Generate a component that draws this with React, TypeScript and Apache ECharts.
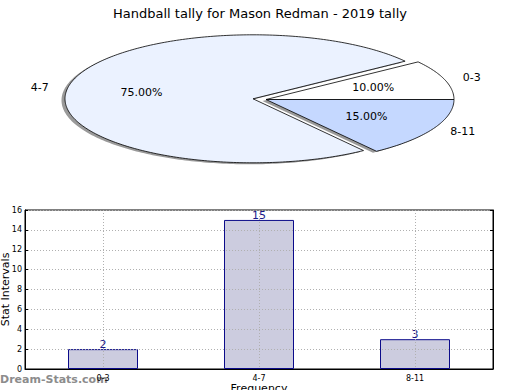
import React, { useEffect, useRef } from "react";
import * as echarts from "echarts";

const titleText = "Handball tally for Mason Redman - 2019 tally";
const categories = ["0-3", "4-7", "8-11"];
const pieValues = [2, 15, 3];
const barValues = [2, 15, 3];
const yTicks = { min: 0, max: 16, interval: 2 };
const xName = "Frequency";
const yName = "Stat Intervals";
const watermark = "Dream-Stats.com";

const FONT = "DejaVu Sans";
const pieColors = ["#ffffff", "#ebf2ff", "#c5d8ff"];
const pieExplode = [0, 0.07, 0];
const PIE = { cx: 266, cy: 99.5, rx: 188, ry: 64, shadowDx: -3.5, shadowDy: 1.5 };

const total = pieValues.reduce((a, b) => a + b, 0);

function slicePoints(i: number, dx: number, dy: number) {
  let start = 0;
  for (let j = 0; j < i; j++) start += pieValues[j] / total;
  const end = start + pieValues[i] / total;
  const a0 = start * Math.PI * 2;
  const a1 = end * Math.PI * 2;
  const mid = (a0 + a1) / 2;
  const ex = pieExplode[i];
  const cx = PIE.cx + ex * PIE.rx * Math.cos(mid) + dx;
  const cy = PIE.cy - ex * PIE.ry * Math.sin(mid) + dy;
  const pts: number[][] = [[cx, cy]];
  const steps = Math.max(4, Math.ceil(((a1 - a0) * 180) / Math.PI));
  for (let k = 0; k <= steps; k++) {
    const a = a0 + ((a1 - a0) * k) / steps;
    pts.push([cx + PIE.rx * Math.cos(a), cy - PIE.ry * Math.sin(a)]);
  }
  return { pts, cx, cy, mid };
}

export default function App() {
  const ref = useRef<HTMLDivElement>(null);
  useEffect(() => {
    document.body.style.margin = "0";
    const chart = echarts.init(ref.current!, null, { renderer: "svg" });
    chart.setOption({
      animation: false,
      backgroundColor: "#ffffff",
      title: {
        text: titleText,
        left: "center",
        top: 2,
        textStyle: { fontFamily: FONT, fontSize: 13, fontWeight: "normal", color: "#000" },
      },
      grid: {
        left: 25,
        right: 27,
        top: 210,
        bottom: 21,
        containLabel: false,
        outerBoundsMode: "none",
        show: true,
        borderColor: "#000",
        borderWidth: 1,
        backgroundColor: "transparent",
      },
      xAxis: {
        type: "category",
        data: categories,
        z: 3,
        axisLine: { show: true, lineStyle: { color: "#000", width: 1 } },
        axisTick: { show: false },
        axisLabel: { fontFamily: FONT, fontSize: 8, color: "#000", margin: 5 },
        splitLine: {
          show: true,
          alignWithLabel: true,
          lineStyle: { color: "#b0b0b0", type: [1, 2], width: 1 },
        },
        name: xName,
        nameLocation: "middle",
        nameGap: 14,
        nameMoveOverlap: false,
        nameTextStyle: { fontFamily: FONT, fontSize: 11, color: "#000" },
      },
      yAxis: [
        {
          type: "value",
          min: yTicks.min,
          max: yTicks.max,
          interval: yTicks.interval,
          z: 3,
          axisLine: { show: true, lineStyle: { color: "#000", width: 1 } },
          axisTick: { show: true, inside: true, length: 3, lineStyle: { color: "#000" } },
          axisLabel: { fontFamily: FONT, fontSize: 8, color: "#000", margin: 3 },
          splitLine: { show: true, lineStyle: { color: "#b0b0b0", type: [1, 2], width: 1 } },
          name: yName,
          nameLocation: "middle",
          nameGap: 14,
          nameRotate: 90,
          nameMoveOverlap: false,
          nameTextStyle: { fontFamily: FONT, fontSize: 11, color: "#000" },
        },
        {
          type: "value",
          position: "right",
          min: yTicks.min,
          max: yTicks.max,
          interval: yTicks.interval,
          z: 3,
          axisLine: { show: true, lineStyle: { color: "#000", width: 1 } },
          axisTick: { show: true, inside: true, length: 3, lineStyle: { color: "#000" } },
          axisLabel: { show: false },
          splitLine: { show: false },
        },
      ],
      graphic: [
        {
          type: "text",
          left: 0,
          top: 374,
          style: { text: watermark, fontFamily: FONT, fontSize: 11, fill: "#8c8c8c", fontWeight: "bold" },
        },
      ],
      series: [
        {
          type: "bar",
          data: barValues,
          barWidth: 70,
          z: 2,
          itemStyle: { color: "#ccccdf", borderColor: "#0b0b8a", borderWidth: 1 },
          label: {
            show: true,
            position: "top",
            distance: -1,
            color: "#1a1a8a",
            fontFamily: FONT,
            fontSize: 11,
          },
        },
        {
          type: "custom",
          coordinateSystem: "none",
          z: 1,
          silent: true,
          data: pieValues.map((v) => [v]),
          renderItem: (params: any) => {
            const i = params.dataIndex;
            const { pts } = slicePoints(i, PIE.shadowDx, PIE.shadowDy);
            return {
              type: "polygon",
              shape: { points: pts },
              style: { fill: "#9a9a9a", stroke: "none" },
            };
          },
        },
        {
          type: "custom",
          coordinateSystem: "none",
          z: 4,
          silent: true,
          data: pieValues.map((v) => [v]),
          renderItem: (params: any, api: any) => {
            const i = params.dataIndex;
            const v = api.value(0);
            const { pts, cx, cy, mid } = slicePoints(i, 0, 0);
            const lx = cx + 1.1 * PIE.rx * Math.cos(mid);
            const ly = cy - 1.1 * PIE.ry * Math.sin(mid);
            const px = cx + 0.6 * PIE.rx * Math.cos(mid);
            const py = cy - 0.6 * PIE.ry * Math.sin(mid);
            return {
              type: "group",
              children: [
                {
                  type: "polygon",
                  shape: { points: pts },
                  style: { fill: pieColors[i], stroke: "#000", lineWidth: 0.8 },
                },
                {
                  type: "text",
                  x: lx,
                  y: ly,
                  style: {
                    text: categories[i],
                    fontFamily: FONT,
                    fontSize: 11,
                    fill: "#000",
                    align: Math.cos(mid) >= 0 ? "left" : "right",
                    verticalAlign: "middle",
                  },
                },
                {
                  type: "text",
                  x: px,
                  y: py,
                  style: {
                    text: ((v / total) * 100).toFixed(2) + "%",
                    fontFamily: FONT,
                    fontSize: 11,
                    fill: "#000",
                    align: "center",
                    verticalAlign: "middle",
                  },
                },
              ],
            };
          },
        },
      ],
    });
    return () => chart.dispose();
  }, []);
  return <div ref={ref} style={{ width: 520, height: 390 }} />;
}
